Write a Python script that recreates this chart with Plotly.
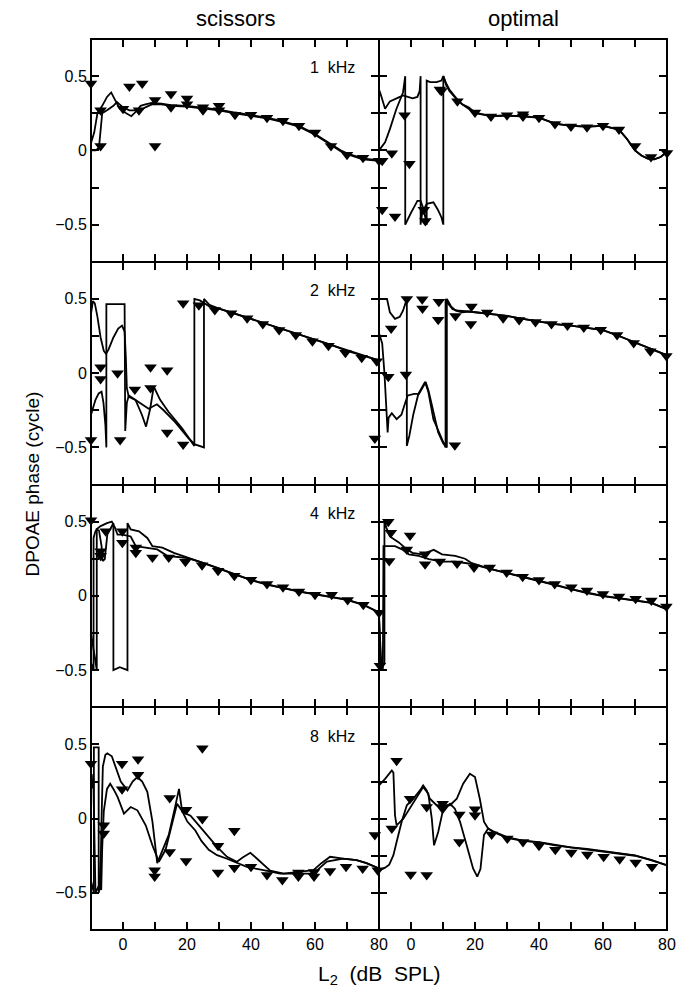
import plotly.graph_objects as go
from plotly.subplots import make_subplots

# ---- 1 kHz ----
k1_sc_mx = [-10, -7, -7, 0, 2, 5, 6, 10, 10, 15, 15, 20, 20, 25, 25, 30, 30, 35, 40, 45, 50, 55, 60, 65, 70, 75, 80]
k1_sc_my = [0.45, 0.27, 0.03, 0.28, 0.43, 0.27, 0.45, 0.34, 0.03, 0.29, 0.38, 0.35, 0.31, 0.27, 0.29, 0.30, 0.27,
            0.24, 0.24, 0.22, 0.20, 0.165, 0.12, 0.03, -0.03, -0.05, -0.07]
k1_sc_ax = [-10, -9, -8, -6.5, -5, -3.7, -2.5, -1, 1, 2.6, 4, 5.5, 7, 9, 12, 15, 20, 25, 30, 35, 40, 45, 50, 55,
            60, 63, 65, 68, 70, 75, 80]
k1_sc_ay = [0.05, 0.12, 0.25, 0.30, 0.36, 0.39, 0.34, 0.28, 0.25, 0.23, 0.26, 0.30, 0.31, 0.32, 0.315, 0.305, 0.30,
            0.29, 0.275, 0.255, 0.24, 0.22, 0.195, 0.165, 0.11, 0.07, 0.04, 0.0, -0.02, -0.055, -0.065]
k1_sc_bx = [-10, -8.5, -7.5, -7, -6.5, -5, -3, -1.9, 0, 2, 4, 5.5, 7, 9, 12, 15, 20, 25, 30, 35, 40, 45, 50, 55,
            60, 63, 65, 68, 70, 75, 80]
k1_sc_by = [0.0, 0.0, 0.02, 0.15, 0.25, 0.27, 0.30, 0.325, 0.29, 0.27, 0.27, 0.27, 0.29, 0.31, 0.31, 0.30, 0.295,
            0.285, 0.27, 0.25, 0.235, 0.215, 0.19, 0.16, 0.105, 0.065, 0.035, -0.005, -0.025, -0.06, -0.07]

k1_op_mx = [-9, -6, -9, -5, -2, -0.5, 4, 4.5, 9, 9.5, 14.5, 20, 25, 30, 35, 35, 40, 45, 50, 55, 60, 65, 70, 75, 80]
k1_op_my = [-0.07, -0.02, -0.40, -0.445, 0.237, -0.09, -0.40, -0.475, 0.41, 0.40, 0.33, 0.255, 0.228, 0.237, 0.243,
            0.228, 0.22, 0.177, 0.16, 0.155, 0.165, 0.14, 0.03, -0.045, -0.017]
k1_op_ax = [-10, -8.1, -6.6, -4.6, -2.5, -1.8, -1.8, -1, 0, 1, 2, 3, 4, 4.9, 4.9, 6, 8, 9.5, 10.1, 11, 12, 14, 16,
            18, 20, 25, 30, 35, 40, 45, 50, 55, 60, 65, 67.5, 70, 72, 74, 76, 78, 80]
k1_op_ay = [0.0, 0.055, 0.143, 0.277, 0.39, 0.50, -0.50, -0.46, -0.42, -0.38, -0.34, -0.34, -0.40, -0.50, 0.47,
            0.46, 0.46, 0.47, 0.50, 0.44, 0.40, 0.35, 0.31, 0.28, 0.25, 0.23, 0.235, 0.23, 0.22, 0.18, 0.165, 0.16,
            0.165, 0.14, 0.077, 0.0, -0.035, -0.055, -0.06, -0.045, -0.01]
k1_op_bx = [-10, -9.5, -8.1, -6.6, -4, -2.5, -1, 0.5, 2, 2.7, 3.0, 3.0, 3.5, 4.9, 7, 8.4, 9.5, 10.1, 10.1, 11, 12,
            14, 16, 18, 20, 25, 30, 35, 40, 45, 50, 55, 60, 65, 67.5, 70, 72, 74, 76, 78, 80]
k1_op_by = [0.41, 0.38, 0.28, 0.33, 0.355, 0.37, 0.36, 0.35, 0.36, 0.40, 0.50, -0.50, -0.42, -0.36, -0.35, -0.40,
            -0.45, -0.50, 0.50, 0.45, 0.41, 0.355, 0.31, 0.29, 0.255, 0.23, 0.235, 0.23, 0.22, 0.18, 0.165, 0.16,
            0.165, 0.14, 0.077, 0.0, -0.035, -0.055, -0.06, -0.045, -0.01]

# ---- 2 kHz ----
k2_sc_mx = [-10, -7, -7, -1.7, -0.9, 3.7, 8.6, 8.6, 13.8, 13.8, 18.8, 18.8, 23.7, 28.7, 33.8, 38.8, 43.7, 48.8, 54,
            59.2, 64.2, 69.5, 74.6, 79.3, 78.7]
k2_sc_my = [-0.45, 0.04, -0.04, 0.0, -0.45, -0.11, 0.04, -0.10, 0.02, -0.40, -0.48, 0.47, 0.457, 0.425, 0.403, 0.37,
            0.33, 0.29, 0.257, 0.215, 0.185, 0.137, 0.103, 0.08, -0.44]
k2_sc_ax = [-10, -9.4, -8.8, -8, -7, -6, -5.3, -4.5, -3, -1.5, -0.3, 0.5, 0.9, 1.2, 1.8, 3.9, 5.9, 7.2, 8.5, 9.6,
            11.6, 14.2, 18.4, 21.5, 22.3, 22.3, 24, 27, 30, 35, 40, 45, 50, 55, 60, 65, 70, 75, 80]
k2_sc_ay = [0.40, 0.485, 0.47, 0.38, 0.24, 0.15, 0.13, 0.16, 0.24, 0.30, 0.32, 0.28, 0.10, -0.10, -0.16, -0.18,
            -0.28, -0.36, -0.24, -0.09, -0.18, -0.26, -0.37, -0.47, -0.49, 0.50, 0.49, 0.45, 0.435, 0.40, 0.365,
            0.33, 0.295, 0.26, 0.225, 0.19, 0.15, 0.115, 0.085]
k2_sc_bx = [-10, -9.7, -8.6, -7.6, -6.7, -6.1, -5.5, -5.2, -5.2, -3, -1, 0.5, 0.7, 1.2, 1.8, 4, 5.9, 8, 10.6, 12.7,
            16.3, 20.5, 22.5, 25.3, 25.3, 27, 30, 35, 40, 45, 50, 55, 60, 65, 70, 75, 80]
k2_sc_by = [-0.28, -0.26, -0.18, -0.137, -0.125, -0.2, -0.35, -0.5, 0.465, 0.465, 0.465, 0.465, -0.39, -0.2, -0.15,
            -0.18, -0.21, -0.24, -0.21, -0.25, -0.33, -0.44, -0.48, -0.50, 0.50, 0.46, 0.435, 0.40, 0.365, 0.33,
            0.295, 0.26, 0.225, 0.19, 0.15, 0.115, 0.085]

k2_op_mx = [-6.2, -7.1, -1.3, -1.6, 3.5, 3.6, 8.7, 8.5, 13.9, 13.7, 18.9, 18.7, 23.8, 28.8, 33.8, 38.9, 43.9, 48.9,
            54, 59.3, 64.4, 69.6, 74.8, 79.8]
k2_op_my = [0.30, -0.025, 0.50, -0.01, 0.497, 0.435, 0.48, 0.36, 0.385, -0.485, 0.448, 0.33, 0.408, 0.37, 0.357,
            0.345, 0.33, 0.32, 0.308, 0.292, 0.257, 0.203, 0.148, 0.115]
k2_op_ax = [-10, -7.5, -6.6, -5, -3.5, -2.5, -1.3, -1.3, -0.5, 0.7, 2.3, 3.5, 4.4, 5.4, 7, 9, 10.1, 10.8, 10.8,
            11.5, 13, 15, 18, 20, 25, 30, 35, 40, 45, 50, 55, 60, 65, 70, 75, 80]
k2_op_ay = [0.5, 0.5, 0.41, 0.365, 0.38, 0.42, 0.5, -0.49, -0.42, -0.28, -0.14, -0.09, -0.06, -0.125, -0.31, -0.41,
            -0.47, -0.50, 0.50, 0.47, 0.43, 0.42, 0.415, 0.41, 0.40, 0.385, 0.365, 0.345, 0.33, 0.32, 0.305, 0.29,
            0.25, 0.205, 0.16, 0.12]
k2_op_bx = [-10, -9, -8.3, -7.8, -7.3, -7, -6, -4.5, -3, -1.8, -1, 1, 2.5, 3.8, 4.6, 5.5, 7, 8.5, 10, 11.2, 11.2,
            12.5, 14, 16, 18, 20, 25, 30, 35, 40, 45, 50, 55, 60, 65, 70, 75, 80]
k2_op_by = [0.27, 0.2, 0.0, -0.2, -0.4, -0.3, -0.27, -0.31, -0.28, -0.2, -0.15, -0.14, -0.14, -0.09, -0.06, -0.12,
            -0.27, -0.4, -0.47, -0.5, 0.5, 0.45, 0.42, 0.41, 0.415, 0.41, 0.40, 0.385, 0.365, 0.345, 0.33, 0.32,
            0.305, 0.29, 0.25, 0.205, 0.16, 0.12]

# ---- 4 kHz ----
k4_sc_mx = [-10, -10.5, -7, -7, -5.4, -0.2, -0.2, 4, 4, 9.2, 14.3, 19.5, 24.7, 29.7, 34.8, 40, 45, 50, 55, 60, 65.2,
            70.2, 75.1, 80]
k4_sc_my = [0.51, 0.39, 0.30, 0.27, 0.435, 0.435, 0.358, 0.325, 0.29, 0.258, 0.258, 0.229, 0.207, 0.169, 0.135,
            0.109, 0.08, 0.058, 0.029, 0.007, 0.007, -0.027, -0.06, -0.113]
k4_sc_ax = [-10, -8.2, -8.2, -7.5, -6.7, -6.4, -5.7, -4.9, -3.0, -3.0, -1, 0.5, 1.4, 1.4, 2.4, 5, 7.6, 9.2, 12.3,
            15.9, 20, 25, 30, 35, 40, 45, 50, 55, 60, 65, 70, 75, 80]
k4_sc_ay = [-0.25, -0.5, 0.447, 0.44, 0.335, 0.235, 0.247, 0.413, 0.49, -0.5, -0.48, -0.49, -0.5, 0.49, 0.447, 0.435,
            0.39, 0.335, 0.325, 0.29, 0.26, 0.225, 0.185, 0.145, 0.108, 0.078, 0.052, 0.03, 0.012, -0.005, -0.025,
            -0.058, -0.11]
k4_sc_bx = [-10, -9.2, -9.2, -8.7, -8.2, -7, -5, -3.5, -2.5, -1.7, -0.2, 2.4, 4, 7.6, 10.7, 13.8, 17, 20, 25, 30,
            35, 40, 45, 50, 55, 60, 65, 70, 75, 80]
k4_sc_by = [-0.45, -0.5, 0.39, 0.43, 0.45, 0.47, 0.49, 0.5, 0.46, 0.413, 0.413, 0.40, 0.335, 0.325, 0.313, 0.27,
            0.26, 0.255, 0.222, 0.183, 0.143, 0.106, 0.076, 0.05, 0.028, 0.01, -0.007, -0.027, -0.06, -0.112]

k4_op_mx = [-9.7, -7.1, -6.3, -6.8, -0.3, -1.3, 4.4, 4.4, 9, 14.4, 19.7, 24.6, 29.9, 34.9, 40, 44.9, 50.1, 55, 60,
            65, 70.2, 75.1, 79.8]
k4_op_my = [-0.47, 0.50, 0.425, 0.235, 0.407, 0.313, 0.28, 0.213, 0.231, 0.218, 0.191, 0.191, 0.158, 0.129, 0.107,
            0.08, 0.058, 0.036, 0.013, -0.004, -0.02, -0.031, -0.071]
k4_op_ax = [-10, -9.4, -8.3, -8.3, -7.7, -6.6, -5.2, -3.8, -2.2, 0.4, 3.5, 5.6, 7.1, 9.7, 13.8, 16.9, 19, 25, 30, 35,
            40, 45, 50, 55, 60, 65, 70, 75, 80]
k4_op_ay = [-0.11, -0.5, -0.45, 0.5, 0.46, 0.40, 0.38, 0.36, 0.33, 0.29, 0.28, 0.30, 0.31, 0.28, 0.27, 0.25, 0.22,
            0.18, 0.155, 0.125, 0.10, 0.075, 0.045, 0.02, 0.0, -0.015, -0.03, -0.045, -0.09]
k4_op_bx = [-10, -9.3, -8.8, -8.6, -7.5, -5, -2.8, -0.7, 2.4, 5.6, 9.7, 13.8, 18, 25, 30, 35, 40, 45, 50, 55, 60, 65,
            70, 75, 80]
k4_op_by = [-0.15, -0.45, -0.5, 0.335, 0.335, 0.335, 0.313, 0.28, 0.27, 0.247, 0.231, 0.231, 0.218, 0.18, 0.153,
            0.123, 0.098, 0.073, 0.043, 0.018, -0.002, -0.017, -0.032, -0.047, -0.092]

# ---- 8 kHz ----
k8_sc_mx = [-10, -6, -6, -0.3, -0.3, 4.7, 4.7, 9.9, 9.9, 14.6, 14.6, 19.7, 19.7, 24.8, 24.8, 29.7, 29.7, 34.8, 34.8,
            40, 45, 49.8, 54.8, 54.8, 59.7, 59.7, 64.7, 69.7, 74.9, 79.6, 78.7]
k8_sc_my = [0.37, -0.045, -0.10, 0.37, 0.197, 0.40, 0.295, -0.347, -0.39, 0.139, -0.224, 0.06, -0.286, 0.474, -0.003,
            -0.183, -0.362, -0.082, -0.331, -0.324, -0.38, -0.414, -0.362, -0.39, -0.36, -0.39, -0.353, -0.324,
            -0.336, -0.347, -0.11]
k8_sc_ax = [-10, -9.1, -9.1, -8.3, -7.6, -7.6, -7.1, -6.7, -6.3, -5.5, -4.9, -3.5, -2, -0.7, 1.4, 3, 4.5, 6, 7.6,
            9.2, 10.7, 12.3, 14.3, 16.2, 17.5, 18.5, 21.1, 23.7, 26.3, 29.4, 32.5, 35.6, 37.5, 39.8, 41.9, 46, 50.2,
            54.2, 59.5, 62, 64.7, 68.8, 73, 76.1, 80]
k8_sc_ay = [-0.42, -0.5, 0.48, 0.48, 0.48, -0.5, -0.45, 0.0, 0.35, 0.43, 0.44, 0.42, 0.33, 0.25, 0.19, 0.25, 0.28,
            0.25, 0.18, -0.02, -0.30, -0.22, -0.11, 0.07, 0.20, 0.045, 0.02, -0.045, -0.11, -0.19, -0.257, -0.29,
            -0.26, -0.23, -0.27, -0.35, -0.37, -0.36, -0.347, -0.3, -0.257, -0.27, -0.28, -0.3, -0.336]
k8_sc_bx = [-10, -9.5, -9.3, -8.6, -7.5, -6.8, -6.5, -6, -5, -4, -3, -1.7, 0.3, 2.4, 4.5, 7.1, 9.2, 11.2, 13.3, 15.4,
            16.9, 18.5, 20.1, 22.6, 24.5, 26.8, 29.4, 32.5, 35.6, 38.7, 43.9, 49.1, 54.2, 59.5, 63.7, 68.8, 73, 76.1,
            80]
k8_sc_by = [0.2, 0.22, 0.3, -0.5, -0.45, -0.48, -0.2, 0.05, 0.2, 0.235, 0.2, 0.146, 0.034, 0.078, 0.056, -0.045,
            -0.18, -0.29, -0.21, -0.02, 0.1, 0.05, -0.02, -0.08, -0.15, -0.21, -0.246, -0.27, -0.30, -0.325, -0.347,
            -0.37, -0.37, -0.37, -0.29, -0.27, -0.28, -0.3, -0.336]

k8_op_mx = [-4.5, -6, -0.3, -0.1, 4.9, 4.9, 9.9, 9.9, 15.1, 15.1, 20, 20, 25.2, 30.1, 35, 40, 45.1, 50.1, 55.1, 60.2,
            65.2, 70.2, 75.3, 80.3]
k8_op_my = [0.39, -0.067, 0.134, -0.376, 0.078, -0.38, 0.10, 0.067, 0.027, -0.157, 0.063, 0.022, -0.107, -0.134,
            -0.157, -0.183, -0.21, -0.228, -0.242, -0.257, -0.273, -0.295, -0.324, -0.353]
k8_op_ax = [-10, -8.1, -6, -5.5, -5, -4.5, -2.4, 0.7, 3.8, 5.4, 6.5, 7.2, 8.5, 10.1, 12.2, 13.7, 15.3, 17.4, 19.4,
            20.7, 21.7, 22.8, 24.1, 25.7, 30, 35, 40, 45, 50, 55, 60, 65, 70, 75, 80]
k8_op_ay = [0.224, 0.268, 0.324, 0.31, 0.022, -0.045, 0.0, 0.11, 0.213, 0.168, 0.0, -0.18, -0.09, 0.067, 0.10, 0.067,
            -0.02, -0.18, -0.336, -0.39, -0.34, -0.11, -0.067, -0.09, -0.13, -0.15, -0.16, -0.18, -0.195, -0.205,
            -0.22, -0.235, -0.25, -0.28, -0.315]
k8_op_bx = [-10, -8.1, -6.8, -5.5, -4.5, -2.9, -1.3, 0.7, 2.8, 3.8, 4.9, 5.9, 8, 10.1, 12.2, 14.3, 16.3, 18.4, 20,
            21.5, 22.8, 24.1, 25.7, 30, 35, 40, 45, 50, 55, 60, 65, 70, 75, 80]
k8_op_by = [-0.35, -0.33, -0.31, -0.246, -0.157, -0.02, 0.09, 0.134, 0.19, 0.224, 0.19, 0.134, 0.09, 0.09, 0.09,
            0.134, 0.235, 0.302, 0.28, 0.134, -0.02, -0.067, -0.085, -0.125, -0.148, -0.158, -0.178, -0.193,
            -0.203, -0.218, -0.233, -0.248, -0.278, -0.313]

freq_labels = ['1  kHz', '2  kHz', '4  kHz', '8  kHz']
col_titles = ['scissors', 'optimal']

x_major = [0, 20, 40, 60, 80]
x_minor = [10, 30, 50, 70]
y_major = [-0.5, 0, 0.5]
y_major_text = ['\u22120.5', '0', '0.5']
y_minor = [-0.25, 0.25]

panels = [
    (1, 1, k1_sc_mx, k1_sc_my, k1_sc_ax, k1_sc_ay, k1_sc_bx, k1_sc_by),
    (1, 2, k1_op_mx, k1_op_my, k1_op_ax, k1_op_ay, k1_op_bx, k1_op_by),
    (2, 1, k2_sc_mx, k2_sc_my, k2_sc_ax, k2_sc_ay, k2_sc_bx, k2_sc_by),
    (2, 2, k2_op_mx, k2_op_my, k2_op_ax, k2_op_ay, k2_op_bx, k2_op_by),
    (3, 1, k4_sc_mx, k4_sc_my, k4_sc_ax, k4_sc_ay, k4_sc_bx, k4_sc_by),
    (3, 2, k4_op_mx, k4_op_my, k4_op_ax, k4_op_ay, k4_op_bx, k4_op_by),
    (4, 1, k8_sc_mx, k8_sc_my, k8_sc_ax, k8_sc_ay, k8_sc_bx, k8_sc_by),
    (4, 2, k8_op_mx, k8_op_my, k8_op_ax, k8_op_ay, k8_op_bx, k8_op_by),
]

FONT = 'Liberation Sans, Arial, sans-serif'

fig = make_subplots(rows=4, cols=2, horizontal_spacing=0, vertical_spacing=0)

for r, c, mx, my, ax_, ay_, bx, by in panels:
    for cx, cy in ((ax_, ay_), (bx, by)):
        fig.add_trace(go.Scatter(x=cx, y=cy, mode='lines',
                                 line=dict(color='black', width=1.8),
                                 showlegend=False, hoverinfo='skip'), row=r, col=c)
    fig.add_trace(go.Scatter(x=mx, y=my, mode='markers', cliponaxis=False,
                             marker=dict(symbol='triangle-down', size=11, color='black',
                                         line=dict(width=0)),
                             showlegend=False), row=r, col=c)

# thin axis lines: neighbouring panels share a border, so two 1px lines make 2px
axis_style = dict(showline=True, linewidth=1, linecolor='black', mirror='allticks',
                  ticks='inside', ticklen=8, tickwidth=2, tickcolor='black',
                  showgrid=False, zeroline=False)
minor_style = dict(ticks='inside', ticklen=8, tickwidth=2, tickcolor='black', showgrid=False)

for r in range(1, 5):
    for c in range(1, 3):
        fig.update_xaxes(range=[-10, 80], tickvals=x_major,
                         minor=dict(tickvals=x_minor, **minor_style),
                         showticklabels=(r == 4),
                         tickfont=dict(family=FONT, size=16, color='black'),
                         row=r, col=c, **axis_style)
        fig.update_yaxes(range=[-0.75, 0.75], tickvals=y_major, ticktext=y_major_text,
                         minor=dict(tickvals=y_minor, **minor_style),
                         showticklabels=(c == 1),
                         tickfont=dict(family=FONT, size=16, color='black'),
                         row=r, col=c, **axis_style)

# outer frame
fig.add_shape(type='rect', xref='paper', yref='paper', x0=0, x1=1, y0=0, y1=1,
              line=dict(color='black', width=2), layer='above')

# frequency labels in the left column
for i, lab in enumerate(freq_labels):
    idx = i * 2 + 1
    name = '' if idx == 1 else str(idx)
    fig.add_annotation(text=lab, xref=f'x{name} domain', yref=f'y{name} domain',
                       x=0.84, y=0.87, xanchor='center', yanchor='middle', showarrow=False,
                       font=dict(family=FONT, size=16, color='black'))

# column titles
for i, t in enumerate(col_titles):
    fig.add_annotation(text=t, xref='paper', yref='paper', x=0.25 + 0.5 * i, y=1,
                       yshift=21, showarrow=False, xanchor='center', yanchor='middle',
                       font=dict(family=FONT, size=22, color='black'))

fig.add_annotation(text='DPOAE phase (cycle)', xref='paper', yref='paper', x=0, y=0.5,
                   xshift=-59, textangle=-90, showarrow=False,
                   xanchor='center', yanchor='middle',
                   font=dict(family=FONT, size=19, color='black'))
fig.add_annotation(text='L<sub>2</sub>  (dB  SPL)', xref='paper', yref='paper', x=0.5, y=0,
                   yshift=-45, showarrow=False, xanchor='center', yanchor='middle',
                   font=dict(family=FONT, size=21, color='black'))

fig.update_layout(width=693, height=1005, autosize=False,
                  margin=dict(l=91, r=26, t=39, b=75),
                  paper_bgcolor='white', plot_bgcolor='white',
                  showlegend=False)

# drop the browser's default body margin so the figure sits at the page corner
fig.write_html("out.html", config={'displayModeBar': False},
               post_script="document.body.style.margin='0';")
